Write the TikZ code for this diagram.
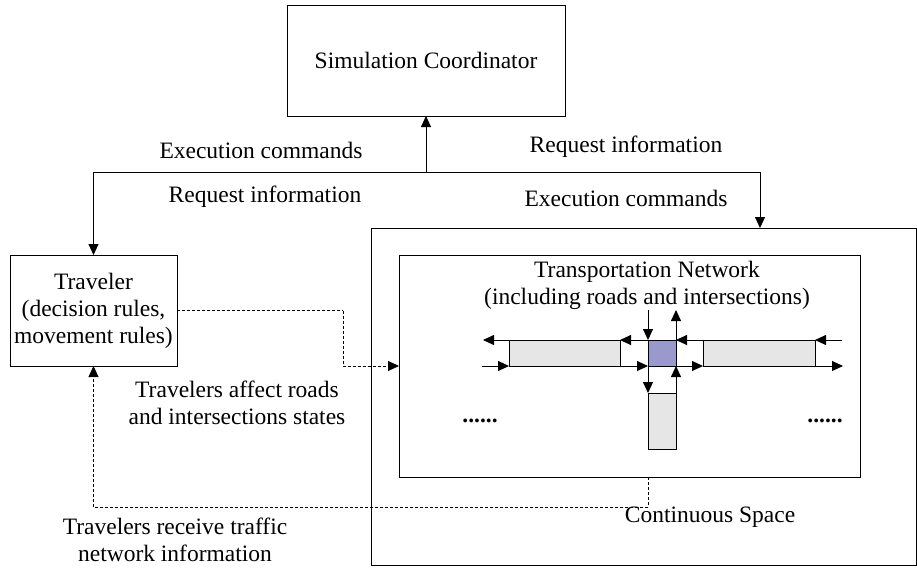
\documentclass[tikz,border=0pt]{standalone}
\usepackage{fontspec}
\setmainfont{Liberation Serif}
\usetikzlibrary{arrows.meta}
\definecolor{roadgray}{RGB}{230,230,230}
\definecolor{intblue}{RGB}{153,153,204}
\begin{document}
\begin{tikzpicture}[x=1pt,y=-1pt,
  every node/.style={font=\fontsize{23.5}{27}\selectfont, inner sep=0pt, outer sep=0pt},
  box/.style={draw, line width=0.9pt, align=center},
  road/.style={draw, line width=0.9pt, fill=roadgray},
  ln/.style={line width=0.9pt},
  arr/.style={line width=0.9pt, -{Triangle[length=11pt,width=10pt]}},
  dsh/.style={dash pattern=on 3pt off 2pt, line width=0.8pt}]
\useasboundingbox (0,0) rectangle (917,567);

% boxes
\node[box, minimum width=278pt, minimum height=111pt] (sim) at (426,60.5) {Simulation Coordinator};
\node[box, minimum width=167pt, minimum height=111pt] (trav) at (93.5,310.5) {Traveler\\(decision rules,\\movement rules)};
\node[box, minimum width=545pt, minimum height=337pt] (cs) at (643.5,396.5) {};
\node[box, minimum width=461pt, minimum height=222pt] (net) at (629.5,366) {};
\node[align=center] (tn) at (647,285) {Transportation Network\\(including roads and intersections)};

% roads
\node[road, minimum width=111pt, minimum height=26pt] (roadL) at (564.5,353) {};
\node[road, minimum width=112pt, minimum height=26pt] (roadR) at (759,353) {};
\node[draw, line width=0.9pt, fill=intblue, minimum width=28pt, minimum height=26pt] (inter) at (662,353) {};
\node[road, minimum width=28pt, minimum height=56pt] (roadV) at (662,421) {};

% top connectors
\coordinate (jl) at (93.5,172);
\coordinate (jm) at (426,172);
\coordinate (jr) at (760,172);
\draw[ln] (jl) -- (jr);
\draw[arr] (jm) -- (sim.south);
\draw[arr] (jl) -- (trav.north);
\draw[arr] (jr) -- (jr |- cs.north);

% road arrows
\coordinate (ltop) at (483,340);
\coordinate (rtop) at (842,340);
\coordinate (lbot) at (482,366);
\coordinate (rbot) at (843,366);
\coordinate (vtop) at (648,310);
\coordinate (vtopr) at (676,310);
\draw[arr] (roadL.north west) -- (ltop);
\draw[arr] (inter.north west) -- (roadL.north east);
\draw[arr] (roadR.north west) -- (inter.north east);
\draw[arr] (rtop) -- (roadR.north east);
\draw[arr] (lbot) -- (roadL.south west);
\draw[arr] (roadL.south east) -- (inter.south west);
\draw[arr] (inter.south east) -- (roadR.south west);
\draw[arr] (roadR.south east) -- (rbot);
\draw[arr] (vtop) -- (inter.north west);
\draw[arr] (inter.north east) -- (vtopr);
\draw[arr] (inter.south west) -- (roadV.north west);
\draw[arr] (roadV.north east) -- (inter.south east);

% dashed connectors
\coordinate (d1) at (343,310.5);
\draw[dsh] (trav.east) -- (d1);
\draw[dsh, -{Triangle[length=11pt,width=10pt]}] (d1) |- (net.west |- inter.south);
\coordinate (d2) at (648,507);
\draw[dsh] (roadV.south west |- net.south) -- (d2);
\draw[dsh, -{Triangle[length=11pt,width=10pt]}] (d2) -| (trav.south);

% labels
\node (ec1) at (261,150) {Execution commands};
\node (ri1) at (265,197) {Request information};
\node (ri2) at (626,147) {Request information};
\node (ec2) at (626,198) {Execution commands};
\node[align=center] (aff) at (237,403) {Travelers affect roads\\and intersections states};
\node (dotsL) at (480,421) {\textbf{......}};
\node (dotsR) at (825,421) {\textbf{......}};
\node (csl) at (710,517) {Continuous Space};
\node[align=center] (rcv) at (175,540) {Travelers receive traffic\\network information};
\end{tikzpicture}
\end{document}
